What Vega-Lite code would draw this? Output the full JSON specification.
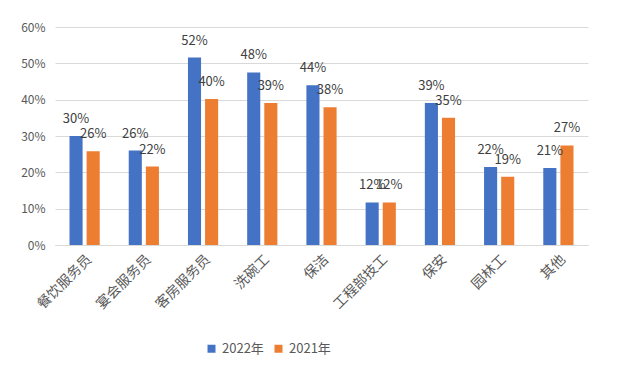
{
  "$schema": "https://vega.github.io/schema/vega-lite/v6.json",
  "width": 533,
  "height": 218,
  "autosize": {"type": "none"},
  "padding": {"left": 55, "top": 27, "right": 33, "bottom": 138},
  "background": "white",
  "config": {
    "font": "Noto Sans CJK SC",
    "view": {"stroke": null}
  },
  "data": {
    "values": [
      {"cat": "餐饮服务员", "year": "2022年", "value": 0.30},
      {"cat": "餐饮服务员", "year": "2021年", "value": 0.258},
      {"cat": "宴会服务员", "year": "2022年", "value": 0.26},
      {"cat": "宴会服务员", "year": "2021年", "value": 0.216},
      {"cat": "客房服务员", "year": "2022年", "value": 0.516},
      {"cat": "客房服务员", "year": "2021年", "value": 0.402},
      {"cat": "洗碗工", "year": "2022年", "value": 0.475},
      {"cat": "洗碗工", "year": "2021年", "value": 0.391},
      {"cat": "保洁", "year": "2022年", "value": 0.44},
      {"cat": "保洁", "year": "2021年", "value": 0.379},
      {"cat": "工程部技工", "year": "2022年", "value": 0.117},
      {"cat": "工程部技工", "year": "2021年", "value": 0.117},
      {"cat": "保安", "year": "2022年", "value": 0.391},
      {"cat": "保安", "year": "2021年", "value": 0.35},
      {"cat": "园林工", "year": "2022年", "value": 0.215},
      {"cat": "园林工", "year": "2021年", "value": 0.188},
      {"cat": "其他", "year": "2022年", "value": 0.212},
      {"cat": "其他", "year": "2021年", "value": 0.274}
    ]
  },
  "encoding": {
    "x": {
      "field": "cat",
      "type": "nominal",
      "sort": null,
      "scale": {"paddingInner": 0.49, "paddingOuter": 0.245},
      "axis": {
        "title": null,
        "labelAngle": -45,
        "labelFontSize": 14,
        "labelColor": "#595959",
        "domainColor": "#D9D9D9",
        "ticks": false,
        "labelPadding": 7
      }
    },
    "xOffset": {
      "field": "year",
      "type": "nominal",
      "sort": ["2022年", "2021年"],
      "scale": {"paddingInner": 0.235}
    },
    "y": {
      "field": "value",
      "type": "quantitative",
      "scale": {"domain": [0, 0.6]},
      "axis": {
        "title": null,
        "format": ".0%",
        "values": [0, 0.1, 0.2, 0.3, 0.4, 0.5, 0.6],
        "domain": false,
        "ticks": false,
        "gridColor": "#D9D9D9",
        "labelColor": "#595959",
        "labelFontSize": 12,
        "labelPadding": 10
      }
    }
  },
  "layer": [
    {
      "mark": {"type": "bar"},
      "encoding": {
        "color": {
          "field": "year",
          "type": "nominal",
          "scale": {"domain": ["2022年", "2021年"], "range": ["#4472C4", "#ED7D31"]},
          "legend": {
            "title": null,
            "orient": "none",
            "direction": "horizontal",
            "legendX": 150,
            "legendY": 315,
            "symbolType": "square",
            "symbolSize": 64,
            "symbolStrokeWidth": 0,
            "labelFontSize": 13,
            "labelColor": "#595959",
            "columnPadding": 8
          }
        }
      }
    },
    {
      "mark": {"type": "text", "baseline": "bottom", "dy": -10, "fontSize": 13, "color": "#404040"},
      "encoding": {
        "text": {"field": "value", "type": "quantitative", "format": ".0%"}
      }
    }
  ]
}
